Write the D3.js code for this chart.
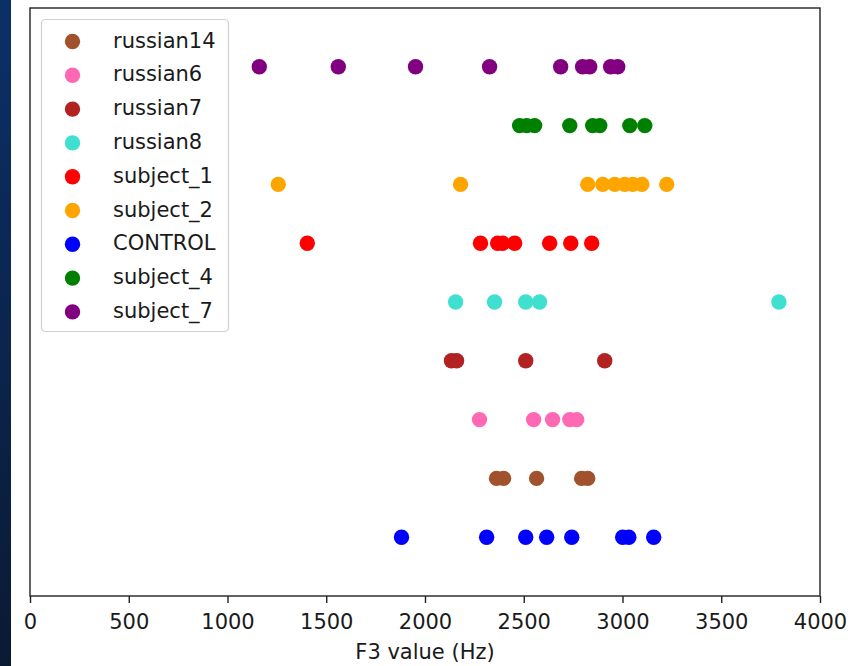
<!DOCTYPE html>
<html>
<head>
<meta charset="utf-8">
<script src="https://cdn.jsdelivr.net/npm/d3@7"></script>
<style>
  html, body { margin: 0; padding: 0; background: #ffffff; }
  svg { display: block; }
  text { font-family: "DejaVu Sans", sans-serif; fill: #1a1a1a; }
</style>
</head>
<body>
<svg id="chart" width="852" height="666"></svg>
<script>
// ---- data ----
const legendOrder = ["russian14", "russian6", "russian7", "russian8", "subject_1", "subject_2", "CONTROL", "subject_4", "subject_7"];
const rowOrder = ["CONTROL", "russian14", "russian6", "russian7", "russian8", "subject_1", "subject_2", "subject_4", "subject_7"];
const seriesColors = ["#a0522d", "#ff69b4", "#b22222", "#40e0d0", "#ff0000", "#ffa500", "#0000ff", "#008000", "#800080"];

const russian14 = [2362, 2398, 2565, 2793, 2824];
const russian6 = [2276, 2550, 2646, 2733, 2768];
const russian7 = [2134, 2160, 2510, 2910];
const russian8 = [2155, 2352, 2510, 2580, 3792];
const subject_1 = [1404, 2281, 2368, 2393, 2454, 2631, 2738, 2844];
const subject_2 = [1257, 2180, 2824, 2900, 2961, 3011, 3052, 3098, 3224];
const CONTROL = [1881, 2312, 2510, 2616, 2743, 3001, 3032, 3158];
const subject_4 = [2479, 2515, 2555, 2733, 2849, 2885, 3037, 3113];
const subject_7 = [1161, 1561, 1952, 2327, 2687, 2798, 2834, 2940, 2976];

const xTicks = [0, 500, 1000, 1500, 2000, 2500, 3000, 3500, 4000];
const xLabel = "F3 value (Hz)";

const seriesValues = { russian14, russian6, russian7, russian8, subject_1, subject_2, CONTROL, subject_4, subject_7 };

// ---- layout ----
const svg = d3.select("#chart");
const L = 30, R = 820, T = 8, B = 596;

// left slide strip
const defs = svg.append("defs");
const grad = defs.append("linearGradient").attr("id", "strip").attr("x1", 0).attr("y1", 0).attr("x2", 0).attr("y2", 1);
grad.append("stop").attr("offset", "0%").attr("stop-color", "#0b3068");
grad.append("stop").attr("offset", "100%").attr("stop-color", "#0a1a33");
svg.append("rect").attr("x", 0).attr("y", 0).attr("width", 11).attr("height", 666).attr("fill", "url(#strip)");

const x = d3.scaleLinear().domain([0, 4000]).range([L, R]);
const y = d3.scaleLinear().domain([-1, 9]).range([B, T]);
const color = d3.scaleOrdinal().domain(legendOrder).range(seriesColors);

// points
legendOrder.forEach(name => {
  const row = rowOrder.indexOf(name);
  svg.append("g").selectAll("circle")
    .data(seriesValues[name])
    .join("circle")
    .attr("cx", d => x(d))
    .attr("cy", y(row))
    .attr("r", 7.7)
    .attr("fill", color(name));
});

// axis
const xAxis = d3.axisBottom(x).tickValues(xTicks).tickFormat(d3.format("d")).tickSize(7).tickPadding(4);
const gx = svg.append("g").attr("transform", `translate(0,${B})`).call(xAxis);
gx.select(".domain").remove();
gx.selectAll(".tick line").attr("stroke", "#222").attr("stroke-width", 1.4);
gx.selectAll(".tick text").attr("font-size", "21px").attr("font-family", "DejaVu Sans").attr("fill", "#1a1a1a")
  .attr("dy", null).attr("y", 33);

// frame
svg.append("rect").attr("x", L).attr("y", T).attr("width", R - L).attr("height", B - T)
  .attr("fill", "none").attr("stroke", "#222").attr("stroke-width", 1.4);

svg.append("text").attr("x", (L + R) / 2).attr("y", 659).attr("text-anchor", "middle")
  .attr("font-size", "21px").text(xLabel);

// legend
const lg = svg.append("g");
lg.append("rect").attr("x", 41.5).attr("y", 19.5).attr("width", 187).attr("height", 312)
  .attr("rx", 4).attr("fill", "#ffffff").attr("fill-opacity", 0.8).attr("stroke", "#d0d0d0").attr("stroke-width", 1.2);
legendOrder.forEach((name, i) => {
  const cy = 41.5 + i * 33.8;
  lg.append("circle").attr("cx", 72.5).attr("cy", cy).attr("r", 7.7).attr("fill", color(name));
  lg.append("text").attr("x", 113).attr("y", cy + 6).attr("font-size", "21px").text(name);
});
</script>
</body>
</html>
